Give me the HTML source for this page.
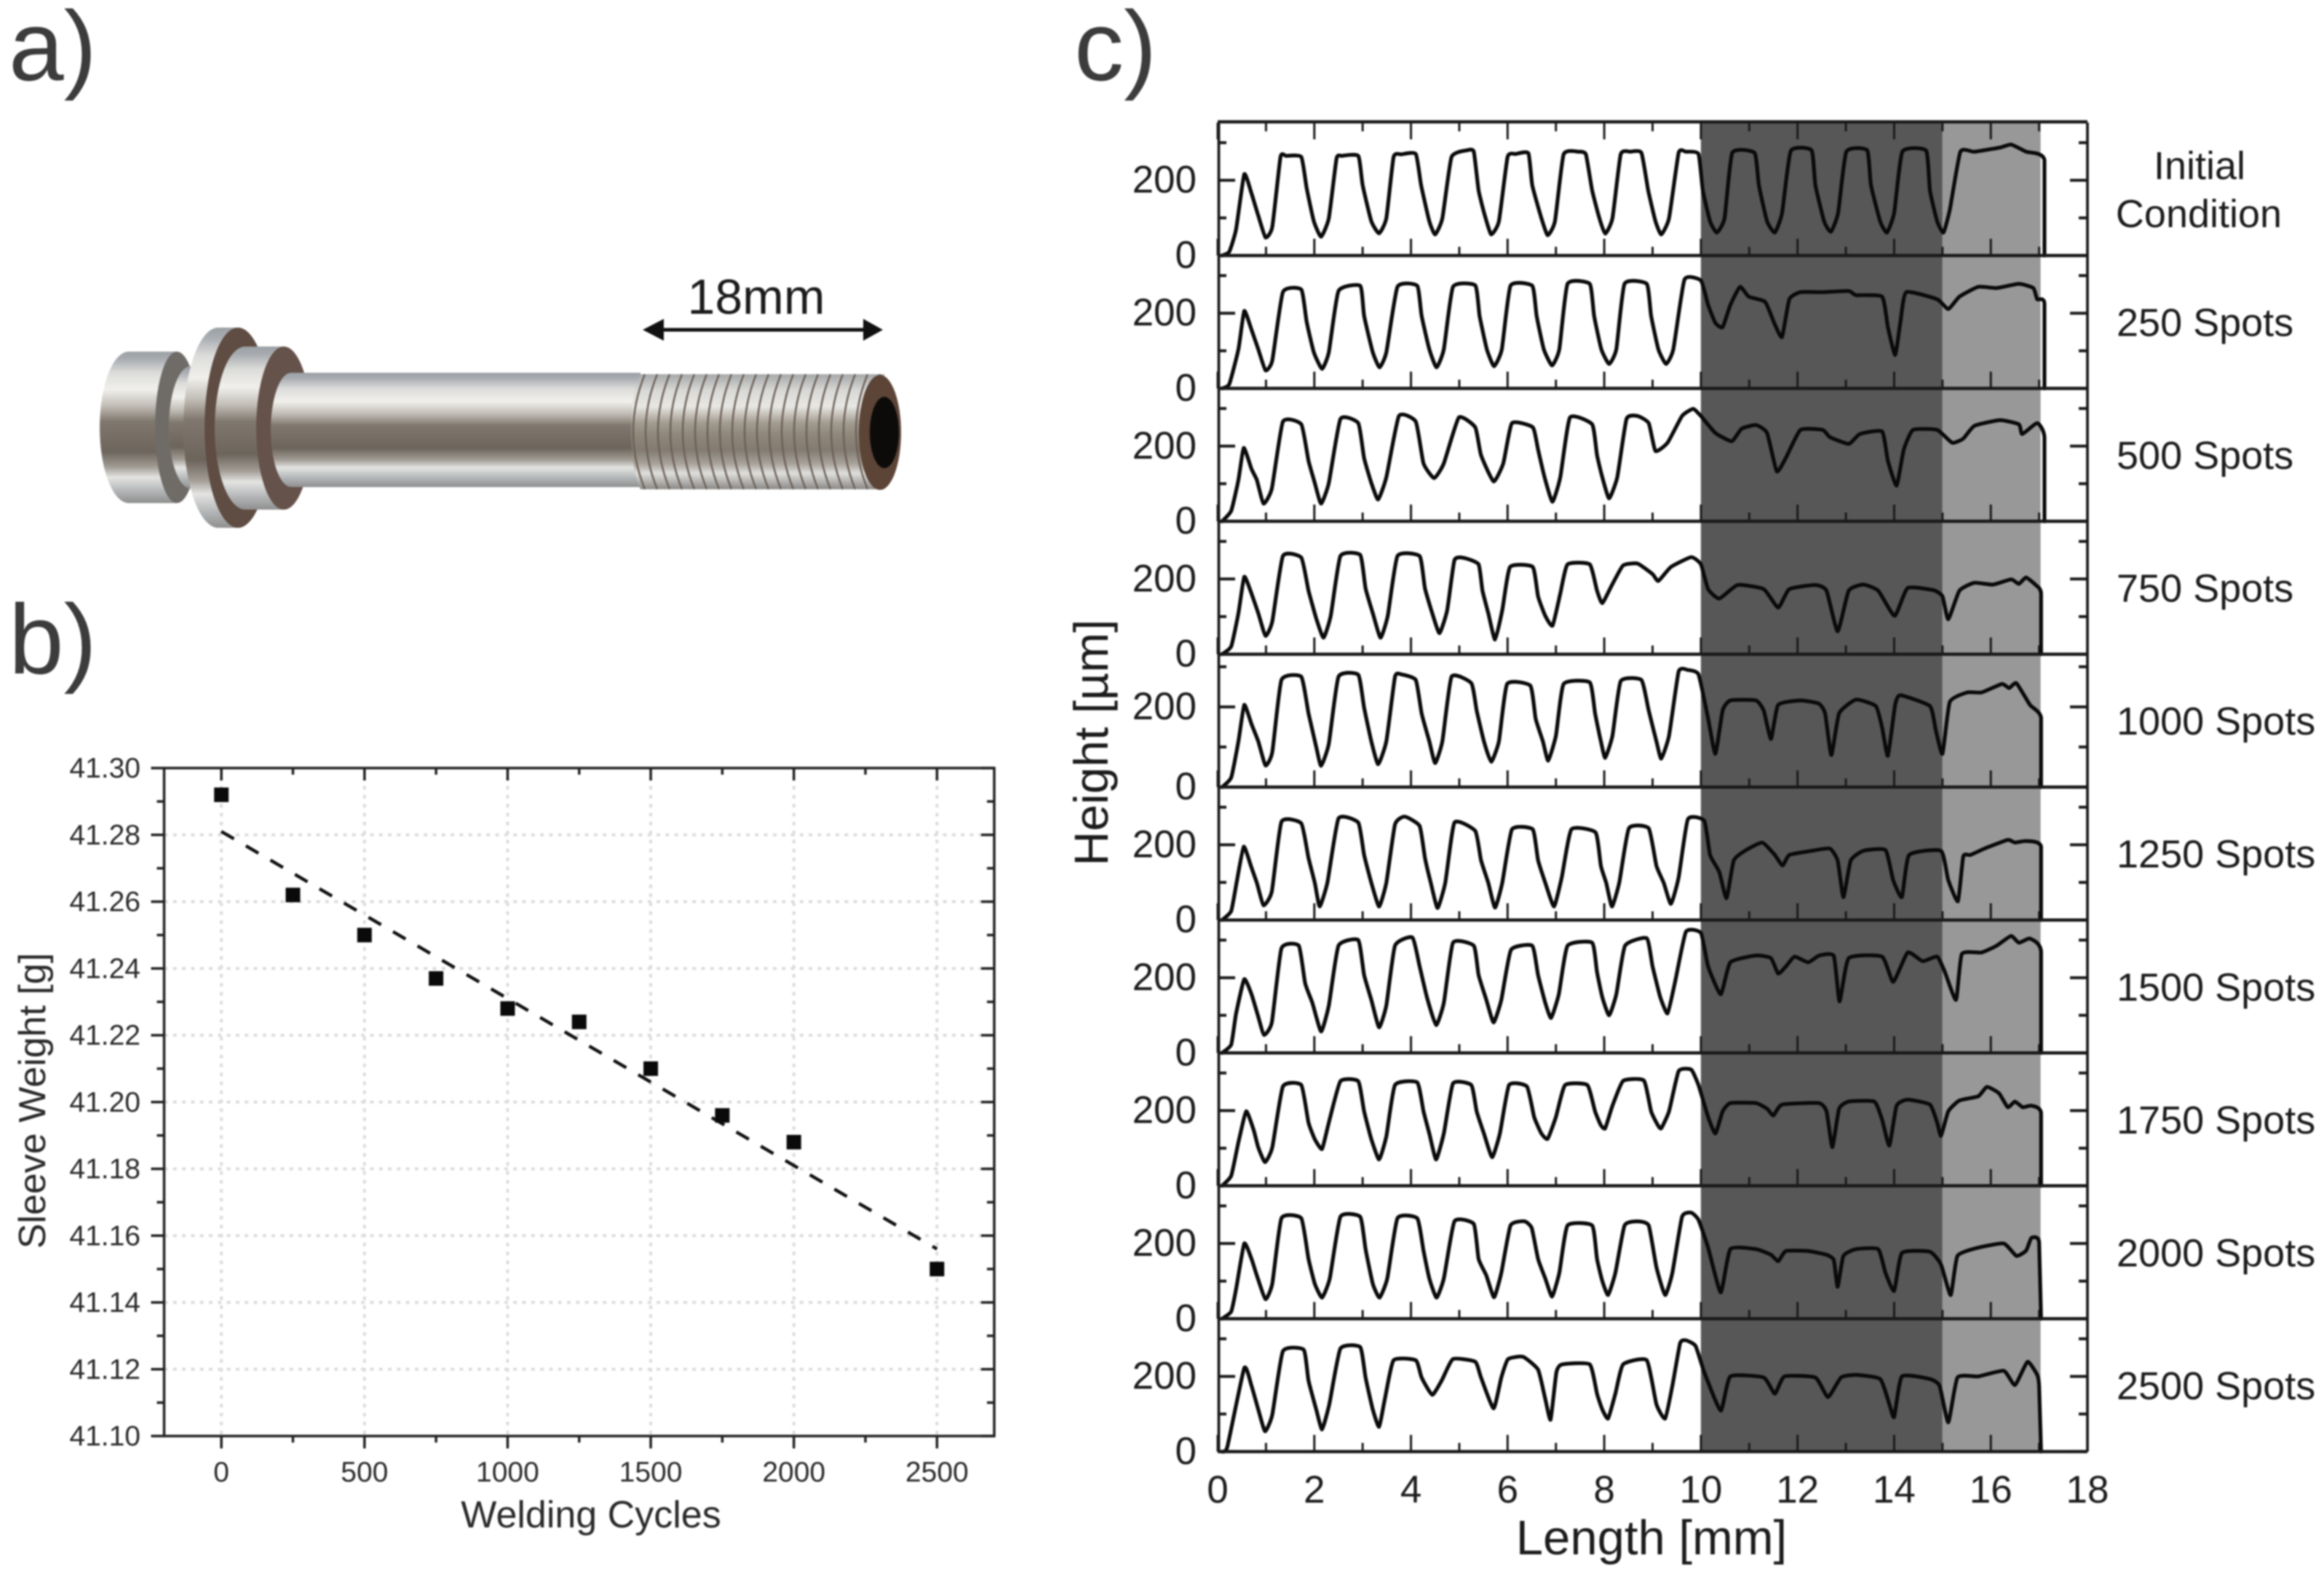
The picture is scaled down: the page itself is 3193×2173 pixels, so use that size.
<!DOCTYPE html>
<html lang="en"><head><meta charset="utf-8"><title>Sleeve wear figure</title>
<style>
html,body{margin:0;padding:0;background:#fff}
#figure{display:block;filter:blur(1.1px)}
text{font-family:"Liberation Sans",sans-serif;fill:#1c1c1c}
</style></head>
<body>
<svg id="figure" xmlns="http://www.w3.org/2000/svg" width="3193" height="2173" viewBox="0 0 3193 2173">
<defs>
<linearGradient id="metal" x1="0" y1="0" x2="0" y2="1">
<stop offset="0" stop-color="#9ba0a5"/><stop offset="0.05" stop-color="#a9adb2"/><stop offset="0.14" stop-color="#dcdcda"/><stop offset="0.25" stop-color="#f1f0ec"/><stop offset="0.36" stop-color="#c0bcb5"/><stop offset="0.46" stop-color="#80786e"/><stop offset="0.66" stop-color="#6d655c"/><stop offset="0.76" stop-color="#a09b93"/><stop offset="0.83" stop-color="#e4e4e2"/><stop offset="0.92" stop-color="#b3b6b8"/><stop offset="1" stop-color="#8f8f8f"/>
</linearGradient>
<linearGradient id="thread-metal" x1="0" y1="0" x2="0" y2="1">
<stop offset="0" stop-color="#a5a8aa"/><stop offset="0.14" stop-color="#d8d8d6"/><stop offset="0.28" stop-color="#e8e7e3"/><stop offset="0.42" stop-color="#a49d92"/><stop offset="0.52" stop-color="#8f887b"/><stop offset="0.66" stop-color="#837b71"/><stop offset="0.78" stop-color="#a8a39b"/><stop offset="0.86" stop-color="#dfdfdc"/><stop offset="1" stop-color="#8c8a88"/>
</linearGradient>
</defs>

<text x="12" y="110" font-size="136" style="fill:#3c3c3c">a)</text>
<text x="12" y="925" font-size="136" style="fill:#3c3c3c">b)</text>
<text x="1476" y="110" font-size="136" style="fill:#3c3c3c">c)</text>

<g>
  <path d="M177 483H243V691H177A40 104 0 0 1 177 483Z" fill="url(#metal)"/>
  <ellipse cx="243" cy="587" rx="30" ry="104" fill="#6f6c68"/>
  <ellipse cx="262" cy="587" rx="30" ry="84" fill="url(#metal)"/>
  <path d="M300 450H327V725H300A48 137.5 0 0 1 300 450Z" fill="url(#metal)"/>
  <ellipse cx="327" cy="587.5" rx="46" ry="137.5" fill="#5f4c42"/>
  <path d="M337 476H390V700H337A42 112 0 0 1 337 476Z" fill="url(#metal)"/>
  <ellipse cx="390" cy="588" rx="38" ry="112" fill="#65524a"/>
  <path d="M400 512H880V669H400A28 78.5 0 0 1 400 512Z" fill="url(#metal)"/>
  <path d="M880 514H1215V672H880C863 640 863 545 880 514Z" fill="url(#thread-metal)"/>
  <path id="thread-ridges" fill="none" stroke="#6b5f57" stroke-width="2.4"/>
  <ellipse cx="1209" cy="594" rx="29" ry="79" fill="#5c4436"/>
  <ellipse cx="1215" cy="594" rx="20" ry="49" fill="#0d0b0a"/>
</g>
<g>
  <text x="1039" y="431" font-size="68" text-anchor="middle">18mm</text>
  <path d="M900 453H1200" stroke="#111" stroke-width="5"/>
  <path d="M883 453L912 438V468Z" fill="#111"/>
  <path d="M1213 453L1186 438V468Z" fill="#111"/>
</g>

<g id="chart-b"></g>
<g id="chart-c"></g>
<text x="812" y="2098" font-size="52" text-anchor="middle" style="fill:#2a2a2a">Welding Cycles</text>
<text transform="translate(62 1512) rotate(-90)" font-size="52" text-anchor="middle" style="fill:#2a2a2a">Sleeve Weight [g]</text>
<text x="2269" y="2135" font-size="67" text-anchor="middle">Length [mm]</text>
<text transform="translate(1522 1020) rotate(-90)" font-size="66" text-anchor="middle">Height [µm]</text>
<text x="3022" y="246" font-size="54" text-anchor="middle">Initial</text>
<text x="3021" y="312" font-size="54" text-anchor="middle">Condition</text>
</svg>

<script>
// Panel b data
const weldingCycles=[0,250,500,750,1000,1250,1500,1750,2000,2500];
const sleeveWeights=[41.292,41.262,41.25,41.237,41.228,41.224,41.21,41.196,41.188,41.15];
const fitCycles=[0,2500];
const fitWeights=[41.281,41.156];
const cycleTicks=[0,500,1000,1500,2000,2500];
const cycleMinorTicks=[250,750,1250,1750,2250];
const weightTicks=[41.10,41.12,41.14,41.16,41.18,41.20,41.22,41.24,41.26,41.28,41.30];

// Panel c data: each profile lists length [mm], height [um], length, height, ...
const profileInitial=[0.09,0,0.24,10,0.38,69,0.55,216,0.70,165,0.84,106,0.99,48,1.13,76,1.30,262,1.42,265,1.73,262,1.84,180,1.99,91,2.14,50,2.30,99,2.46,258,2.57,265,2.91,265,3.00,187,3.18,91,3.34,59,3.49,99,3.64,262,3.80,269,4.10,270,4.21,187,4.38,91,4.50,56,4.65,99,4.84,262,5.17,280,5.30,276,5.40,173,5.53,106,5.66,56,5.82,91,6.00,262,6.17,270,6.43,272,6.51,187,6.70,99,6.83,54,6.98,91,7.16,269,7.47,276,7.62,269,7.75,173,7.90,99,8.02,58,8.17,99,8.34,269,8.54,276,8.77,273,8.91,173,9.06,91,9.18,56,9.34,99,9.54,273,9.69,276,9.95,270,10.04,173,10.19,91,10.33,61,10.49,99,10.65,273,11.11,273,11.20,187,11.37,91,11.53,61,11.68,113,11.86,278,12.29,280,12.37,187,12.55,91,12.69,63,12.84,113,13.01,276,13.44,280,13.52,187,13.71,91,13.85,61,14.00,113,14.17,276,14.66,279,14.74,173,14.89,91,15.02,61,15.15,121,15.37,276,15.66,276,16.19,287,16.42,295,16.73,276,17.11,254,17.11,0];
const profile250=[0.09,0,0.24,11,0.43,104,0.55,206,0.70,156,0.84,104,0.99,48,1.13,74,1.35,256,1.73,263,1.84,178,1.99,96,2.16,52,2.30,96,2.50,259,2.95,273,3.03,193,3.21,96,3.35,56,3.49,96,3.72,270,4.13,273,4.22,193,4.38,104,4.53,56,4.68,104,4.87,270,5.33,274,5.42,193,5.57,104,5.72,59,5.88,104,6.06,273,6.51,273,6.60,193,6.75,104,6.92,61,7.07,104,7.24,278,7.70,278,7.79,193,7.94,104,8.10,65,8.25,104,8.42,278,8.88,278,8.97,193,9.12,104,9.28,65,9.43,104,9.66,289,10.00,287,10.15,222,10.30,174,10.45,163,10.61,222,10.81,270,10.99,244,11.33,230,11.53,170,11.68,137,11.83,237,12.06,256,12.52,256,13.06,259,13.21,248,13.75,244,13.87,163,14.02,89,14.13,178,14.25,256,14.89,237,15.12,211,15.35,244,15.74,270,16.12,267,16.58,278,16.88,267,16.96,237,17.11,226,17.11,0];
const profile500=[0.09,0,0.28,28,0.43,110,0.54,195,0.70,139,0.81,110,0.95,47,1.12,87,1.35,265,1.73,258,1.88,161,2.01,102,2.14,47,2.30,102,2.54,272,2.91,261,3.03,168,3.18,102,3.32,58,3.49,117,3.75,280,4.10,265,4.26,154,4.48,115,4.68,154,4.99,276,5.33,250,5.45,176,5.71,106,5.91,154,6.09,261,6.52,250,6.63,191,6.78,110,6.93,52,7.09,117,7.29,276,7.75,258,7.85,176,7.96,117,8.10,61,8.27,117,8.46,272,8.69,280,8.92,261,9.06,187,9.31,209,9.61,280,9.84,299,10.00,280,10.30,235,10.64,213,10.84,246,11.14,256,11.37,235,11.57,133,11.76,169,12.06,243,12.52,243,12.67,224,13.06,206,13.29,232,13.75,239,13.87,161,14.05,95,14.20,191,14.39,243,14.89,243,15.20,209,15.43,220,15.66,254,16.19,269,16.58,258,16.65,232,16.96,261,17.11,224,17.11,0];
const profile750=[0.09,0,0.28,21,0.43,109,0.55,206,0.70,161,0.84,109,0.99,49,1.13,87,1.35,261,1.73,257,1.88,169,2.04,95,2.19,44,2.34,102,2.54,261,2.95,264,3.06,175,3.21,109,3.37,44,3.52,102,3.72,261,4.18,261,4.29,175,4.44,109,4.59,56,4.75,117,4.90,250,5.10,256,5.40,239,5.48,169,5.60,109,5.74,39,5.89,117,6.05,232,6.52,232,6.63,154,6.78,102,6.93,76,7.09,161,7.24,239,7.70,239,7.85,169,7.96,136,8.16,184,8.39,236,8.69,241,9.00,213,9.12,195,9.38,232,9.80,258,10.00,239,10.15,173,10.38,148,10.76,184,11.30,173,11.60,124,11.83,173,12.37,184,12.60,169,12.83,61,13.06,169,13.36,185,13.67,169,14.01,102,14.28,176,14.82,170,15.00,154,15.12,93,15.35,169,15.66,190,16.04,185,16.42,199,16.58,187,16.73,204,16.93,184,17.04,162,17.04,0];
const profile1000=[0.09,0,0.28,24,0.43,114,0.55,205,0.70,157,0.84,114,0.99,54,1.13,87,1.32,267,1.73,275,1.88,184,2.04,100,2.14,53,2.30,108,2.50,275,2.91,280,3.03,198,3.18,114,3.32,57,3.49,114,3.67,275,3.80,281,4.10,267,4.22,184,4.38,114,4.50,60,4.65,114,4.84,275,5.25,259,5.36,191,5.51,114,5.66,63,5.82,114,5.99,257,6.47,253,6.58,171,6.73,114,6.84,66,7.00,128,7.16,257,7.70,261,7.81,184,7.93,114,8.02,73,8.17,128,8.34,264,8.77,267,8.92,191,9.08,114,9.18,71,9.34,128,9.54,288,9.73,292,9.95,281,10.15,171,10.30,83,10.45,191,10.61,216,11.14,216,11.30,191,11.45,120,11.60,205,12.06,216,12.44,208,12.57,184,12.70,80,12.86,184,13.21,218,13.62,202,13.75,149,13.87,78,14.02,205,14.13,229,14.74,202,14.86,143,15.00,83,15.15,212,15.51,236,15.81,236,16.23,257,16.38,247,16.53,259,16.81,205,17.04,173,17.04,0];
const profile1250=[0.09,0,0.28,24,0.40,106,0.54,195,0.69,143,0.81,99,0.95,39,1.12,76,1.32,261,1.73,257,1.88,165,2.01,99,2.11,36,2.27,99,2.50,270,2.91,259,3.03,173,3.18,99,3.34,36,3.49,99,3.67,254,3.87,275,4.18,250,4.29,165,4.41,99,4.55,32,4.71,99,4.90,259,5.33,237,5.45,159,5.60,99,5.74,33,5.89,99,6.09,241,6.52,241,6.63,159,6.78,99,6.96,36,7.12,113,7.32,241,7.82,233,7.93,144,8.04,99,8.16,36,8.31,99,8.51,244,8.92,244,9.08,144,9.23,99,9.38,43,9.54,113,9.73,268,10.07,264,10.19,173,10.38,128,10.53,58,10.68,158,10.91,184,11.27,206,11.53,173,11.69,145,11.83,173,12.29,184,12.67,190,12.83,158,12.95,61,13.10,158,13.36,184,13.82,186,13.98,106,14.16,61,14.31,173,14.97,184,15.12,106,15.32,50,15.43,169,15.58,173,15.89,191,16.35,213,16.50,206,16.73,210,17.04,195,17.04,0];
const profile1500=[0.09,0,0.28,22,0.38,104,0.55,196,0.70,156,0.84,96,0.96,48,1.12,81,1.32,278,1.68,285,1.81,185,1.96,133,2.14,57,2.30,126,2.50,285,2.91,300,3.03,207,3.18,141,3.34,68,3.49,126,3.67,285,4.03,307,4.18,230,4.33,148,4.52,74,4.68,133,4.87,293,5.30,285,5.40,207,5.56,141,5.71,81,5.87,141,6.07,274,6.51,285,6.63,207,6.78,133,6.90,93,7.06,156,7.24,285,7.75,293,7.85,215,7.96,148,8.10,100,8.25,156,8.43,285,8.88,305,9.00,230,9.16,148,9.31,105,9.46,185,9.69,322,10.00,319,10.15,230,10.41,156,10.61,241,11.14,259,11.45,252,11.60,211,11.76,230,11.94,256,12.22,241,12.45,259,12.75,258,12.87,137,13.06,252,13.75,256,13.98,189,14.28,267,14.59,244,14.89,256,15.05,215,15.28,141,15.40,263,15.81,267,16.12,285,16.42,311,16.58,293,16.81,304,17.04,270,17.04,0];
const profile1750=[0.09,0,0.28,27,0.43,116,0.59,198,0.75,146,0.84,102,0.98,63,1.13,102,1.35,264,1.73,268,1.88,168,2.01,124,2.16,98,2.30,168,2.54,278,2.91,278,3.03,198,3.18,124,3.34,70,3.49,131,3.67,268,4.13,275,4.26,198,4.38,139,4.52,70,4.68,139,4.87,272,5.25,268,5.36,198,5.51,139,5.68,76,5.84,139,6.03,268,6.40,264,6.55,183,6.70,139,6.83,125,7.00,183,7.19,268,7.65,268,7.81,198,7.93,161,8.02,153,8.17,213,8.39,279,8.82,280,8.97,198,9.11,161,9.18,153,9.34,198,9.54,305,9.80,309,9.95,268,10.15,183,10.30,139,10.45,198,10.61,220,11.14,220,11.37,205,11.50,187,11.68,216,12.44,220,12.60,198,12.72,103,12.86,205,13.06,224,13.59,224,13.75,176,13.90,107,14.05,213,14.28,229,14.74,216,14.89,168,14.97,133,15.12,198,15.35,227,15.74,238,15.92,263,16.17,246,16.35,209,16.50,224,16.66,209,16.84,213,17.04,194,17.04,0];
const profile2000=[0.09,0,0.28,19,0.38,78,0.55,200,0.70,159,0.81,115,0.99,52,1.13,93,1.32,267,1.73,267,1.88,159,2.01,93,2.16,56,2.32,107,2.54,271,2.95,271,3.06,185,3.21,93,3.35,56,3.51,107,3.72,267,4.13,267,4.26,181,4.38,107,4.53,56,4.68,107,4.90,259,5.30,252,5.40,159,5.56,115,5.72,57,5.87,122,6.06,248,6.35,259,6.50,241,6.63,159,6.78,107,6.92,59,7.07,122,7.24,248,7.75,248,7.85,159,7.96,100,8.08,63,8.23,122,8.42,248,8.69,259,8.92,248,9.08,137,9.26,63,9.41,122,9.61,271,9.80,282,9.95,263,10.15,189,10.41,70,10.61,185,11.14,185,11.45,170,11.60,153,11.76,180,12.22,180,12.60,170,12.75,156,12.83,85,12.95,167,13.21,185,13.67,185,13.82,122,14.00,74,14.16,175,14.74,178,14.97,144,15.17,63,15.31,167,15.74,189,16.27,200,16.53,167,16.73,181,16.84,215,17.00,204,17.04,0];
const profile2500=[0.09,0,0.20,13,0.55,222,0.70,175,0.84,112,0.98,54,1.13,98,1.35,267,1.78,271,1.88,189,2.04,112,2.16,59,2.31,126,2.54,274,2.95,278,3.06,197,3.21,112,3.34,66,3.46,140,3.64,243,4.10,243,4.22,197,4.44,151,4.64,190,4.87,246,5.33,239,5.45,197,5.71,115,5.87,197,6.01,246,6.32,252,6.63,218,6.78,140,6.89,85,7.01,211,7.13,232,7.70,232,7.85,154,7.96,112,8.08,88,8.23,154,8.39,232,8.88,243,9.08,126,9.26,88,9.41,175,9.57,288,9.69,296,9.89,281,10.07,211,10.41,109,10.61,200,11.30,197,11.53,154,11.73,200,12.37,197,12.63,145,12.90,197,13.21,204,13.71,193,13.90,126,14.00,92,14.16,200,14.74,193,14.94,175,15.12,78,15.31,197,15.74,200,16.27,215,16.50,177,16.76,239,16.96,204,17.00,175,17.04,0];
const lengthTicks=[0,2,4,6,8,10,12,14,16,18];
const lengthMinorTicks=[1,3,5,7,9,11,13,15,17];
const heightTicks=[0,200];
const heightMinorTicks=[100,300];
const zoneBounds=[10,15,17.03];
const spotLabels=["","250 Spots","500 Spots","750 Spots","1000 Spots","1250 Spots","1500 Spots","1750 Spots","2000 Spots","2500 Spots"];

const SVGNS='http://www.w3.org/2000/svg';
function make(parent,tag,attrs,txt){
  const n=document.createElementNS(SVGNS,tag);
  for(const k in attrs)n.setAttribute(k,attrs[k]);
  if(txt!==undefined)n.textContent=txt;
  parent.appendChild(n);
  return n;
}

// Thread ridges of the sleeve illustration
let ridgePath='';
for(let i=0;i<20;i++){
  const tx=874+i*17;
  ridgePath+='M'+(tx+12)+' 514Q'+(tx-20)+' 593 '+(tx+12)+' 672';
}
document.getElementById('thread-ridges').setAttribute('d',ridgePath);

// Panel b
(function(){
  const g=document.getElementById('chart-b');
  const L=225.5,R=1366,T=1055,B=1972.5;
  const X=v=>L+(v+200)/2900*(R-L);
  const Y=v=>B-(v-41.10)/0.20*(B-T);
  cycleTicks.forEach(v=>{
    const n=make(g,'line',{x1:X(v),x2:X(v),y1:T,y2:B,stroke:'#dcdcdc','stroke-width':4,'stroke-dasharray':'5 7.3'});
    
    
    const t=make(g,'line',{x1:X(v),x2:X(v),y1:B,y2:B+17,stroke:'#222','stroke-width':3.5});
    
    
    const t2=make(g,'line',{x1:X(v),x2:X(v),y1:T,y2:T+17,stroke:'#222','stroke-width':3.5});
    
    
    const l=make(g,'text',{x:X(v),y:2035,'font-size':39,'text-anchor':'middle',style:'fill:#2a2a2a'},String(v));
    
    
  });
  cycleMinorTicks.forEach(v=>{
    const t=make(g,'line',{x1:X(v),x2:X(v),y1:B,y2:B+9,stroke:'#222','stroke-width':3.5});
    
    
    const t2=make(g,'line',{x1:X(v),x2:X(v),y1:T,y2:T+9,stroke:'#222','stroke-width':3.5});
    
    
  });
  weightTicks.forEach((v,i)=>{
    if(i>0&&i<weightTicks.length-1){
      const n=make(g,'line',{x1:L,x2:R,y1:Y(v),y2:Y(v),stroke:'#dcdcdc','stroke-width':4,'stroke-dasharray':'5 7.3'});
      
      
    }
    const t=make(g,'line',{x1:L-18,x2:L,y1:Y(v),y2:Y(v),stroke:'#222','stroke-width':3.5});
    
    
    const t2=make(g,'line',{x1:R-18,x2:R,y1:Y(v),y2:Y(v),stroke:'#222','stroke-width':3.5});
    
    
    if(i<weightTicks.length-1){
      const vm=(v+weightTicks[i+1])/2;
      const m=make(g,'line',{x1:L-10,x2:L,y1:Y(vm),y2:Y(vm),stroke:'#222','stroke-width':3.5});
      
      
      const m2=make(g,'line',{x1:R-10,x2:R,y1:Y(vm),y2:Y(vm),stroke:'#222','stroke-width':3.5});
      
      
    }
    const l=make(g,'text',{x:193,y:Y(v)+13,'font-size':39,'text-anchor':'end',style:'fill:#2a2a2a'},v.toFixed(2));
    
    
  });
  const f=make(g,'rect',{x:L,y:T,width:R-L,height:B-T,fill:'none',stroke:'#222','stroke-width':3.5});
  
  
  const fit=make(g,'line',{x1:X(fitCycles[0]),y1:Y(fitWeights[0]),x2:X(fitCycles[1]),y2:Y(fitWeights[1]),stroke:'#111','stroke-width':4.5,'stroke-dasharray':'20 19'});
  
  
  weldingCycles.forEach((c,i)=>{
    const p=make(g,'rect',{x:X(c)-10,y:Y(sleeveWeights[i])-10,width:20,height:20,fill:'#0a0a0a'});
    
    
  });
})();

// Panel c
(function(){
  const g=document.getElementById('chart-c');
  const L=1673,R=2868,T=168.4,PH=182.55,N=10;
  const X=v=>L+v/18*(R-L);
  // The 1000-spot panel of the source figure has a slightly taller height axis.
  const pxPerUm=i=>i===4?0.551:0.5165;
  const Y=(i,h)=>T+(i+1)*PH-h*pxPerUm(i);
  const profiles=[profileInitial,profile250,profile500,profile750,profile1000,profile1250,profile1500,profile1750,profile2000,profile2500];
  const bandA=make(g,'rect',{x:X(zoneBounds[0]),y:T,width:X(zoneBounds[1])-X(zoneBounds[0]),height:PH*N,fill:'#575757'});
  
  
  const bandB=make(g,'rect',{x:X(zoneBounds[1]),y:T,width:X(zoneBounds[2])-X(zoneBounds[1]),height:PH*N,fill:'#989898'});
  
  
  function smoothPath(prof,i){
    const p=[];
    for(let k=0;k<prof.length;k+=2)p.push([X(prof[k]),Y(i,prof[k+1])]);
    let d='M'+p[0][0].toFixed(1)+' '+p[0][1].toFixed(1);
    const s=0.08;
    for(let k=0;k<p.length-1;k++){
      const a=p[Math.max(k-1,0)],b=p[k],c=p[k+1],e=p[Math.min(k+2,p.length-1)];
      if(k===p.length-2){d+='L'+c[0].toFixed(1)+' '+c[1].toFixed(1);continue;}
      const c1x=b[0]+(c[0]-a[0])*s,c1y=b[1]+(c[1]-a[1])*s;
      const c2x=c[0]-(e[0]-b[0])*s,c2y=c[1]-(e[1]-b[1])*s;
      d+='C'+c1x.toFixed(1)+' '+c1y.toFixed(1)+' '+c2x.toFixed(1)+' '+c2y.toFixed(1)+' '+c[0].toFixed(1)+' '+c[1].toFixed(1);
    }
    return d;
  }
  const base0=i=>T+(i+1)*PH;
  profiles.forEach((prof,i)=>{
    lengthTicks.forEach(v=>{
      const t=make(g,'line',{x1:X(v),x2:X(v),y1:base0(i),y2:base0(i)-23,stroke:'#1a1a1a','stroke-width':3});
      
      
    });
    lengthMinorTicks.forEach(v=>{
      const t=make(g,'line',{x1:X(v),x2:X(v),y1:base0(i),y2:base0(i)-12,stroke:'#1a1a1a','stroke-width':3});
      
      
    });
    heightTicks.forEach(h=>{
      const t=make(g,'line',{x1:L,x2:L+24,y1:Y(i,h),y2:Y(i,h),stroke:'#1a1a1a','stroke-width':4});
      
      
      const t2=make(g,'line',{x1:R-24,x2:R,y1:Y(i,h),y2:Y(i,h),stroke:'#1a1a1a','stroke-width':4});
      
      
      const l=make(g,'text',{x:1644,y:Y(i,h)+17,'font-size':53,'text-anchor':'end'},String(h));
      
      
    });
    heightMinorTicks.forEach(h=>{
      const t=make(g,'line',{x1:L,x2:L+12,y1:Y(i,h),y2:Y(i,h),stroke:'#1a1a1a','stroke-width':4});
      
      
      const t2=make(g,'line',{x1:R-12,x2:R,y1:Y(i,h),y2:Y(i,h),stroke:'#1a1a1a','stroke-width':4});
      
      
    });
    const line=make(g,'path',{d:smoothPath(prof,i),fill:'none',stroke:'#0a0a0a','stroke-width':5.2,'stroke-linejoin':'round','stroke-linecap':'round'});
    
    
    const base=make(g,'line',{x1:L,x2:R,y1:base0(i),y2:base0(i),stroke:'#1a1a1a','stroke-width':4.5});
    
    
    if(spotLabels[i]){
      const s=make(g,'text',{x:2908,y:base0(i)-72,'font-size':54},spotLabels[i]);
      
      
    }
  });
  lengthTicks.forEach(v=>{
    const t=make(g,'line',{x1:X(v),x2:X(v),y1:T,y2:T+23,stroke:'#1a1a1a','stroke-width':3});
    
    
  });
  lengthMinorTicks.forEach(v=>{
    const t=make(g,'line',{x1:X(v),x2:X(v),y1:T,y2:T+12,stroke:'#1a1a1a','stroke-width':3});
    
    
  });
  const top=make(g,'line',{x1:L,x2:R,y1:T-1,y2:T-1,stroke:'#1a1a1a','stroke-width':4.5});
  
  
  const left=make(g,'line',{x1:L+1.5,x2:L+1.5,y1:T,y2:T+PH*N,stroke:'#1a1a1a','stroke-width':3.8});
  
  
  const right=make(g,'line',{x1:R,x2:R,y1:T,y2:T+PH*N,stroke:'#1a1a1a','stroke-width':3.8});
  
  
  lengthTicks.forEach(v=>{
    const l=make(g,'text',{x:X(v),y:2064,'font-size':53,'text-anchor':'middle'},String(v));
    
    
  });
})();
</script>
</body></html>
